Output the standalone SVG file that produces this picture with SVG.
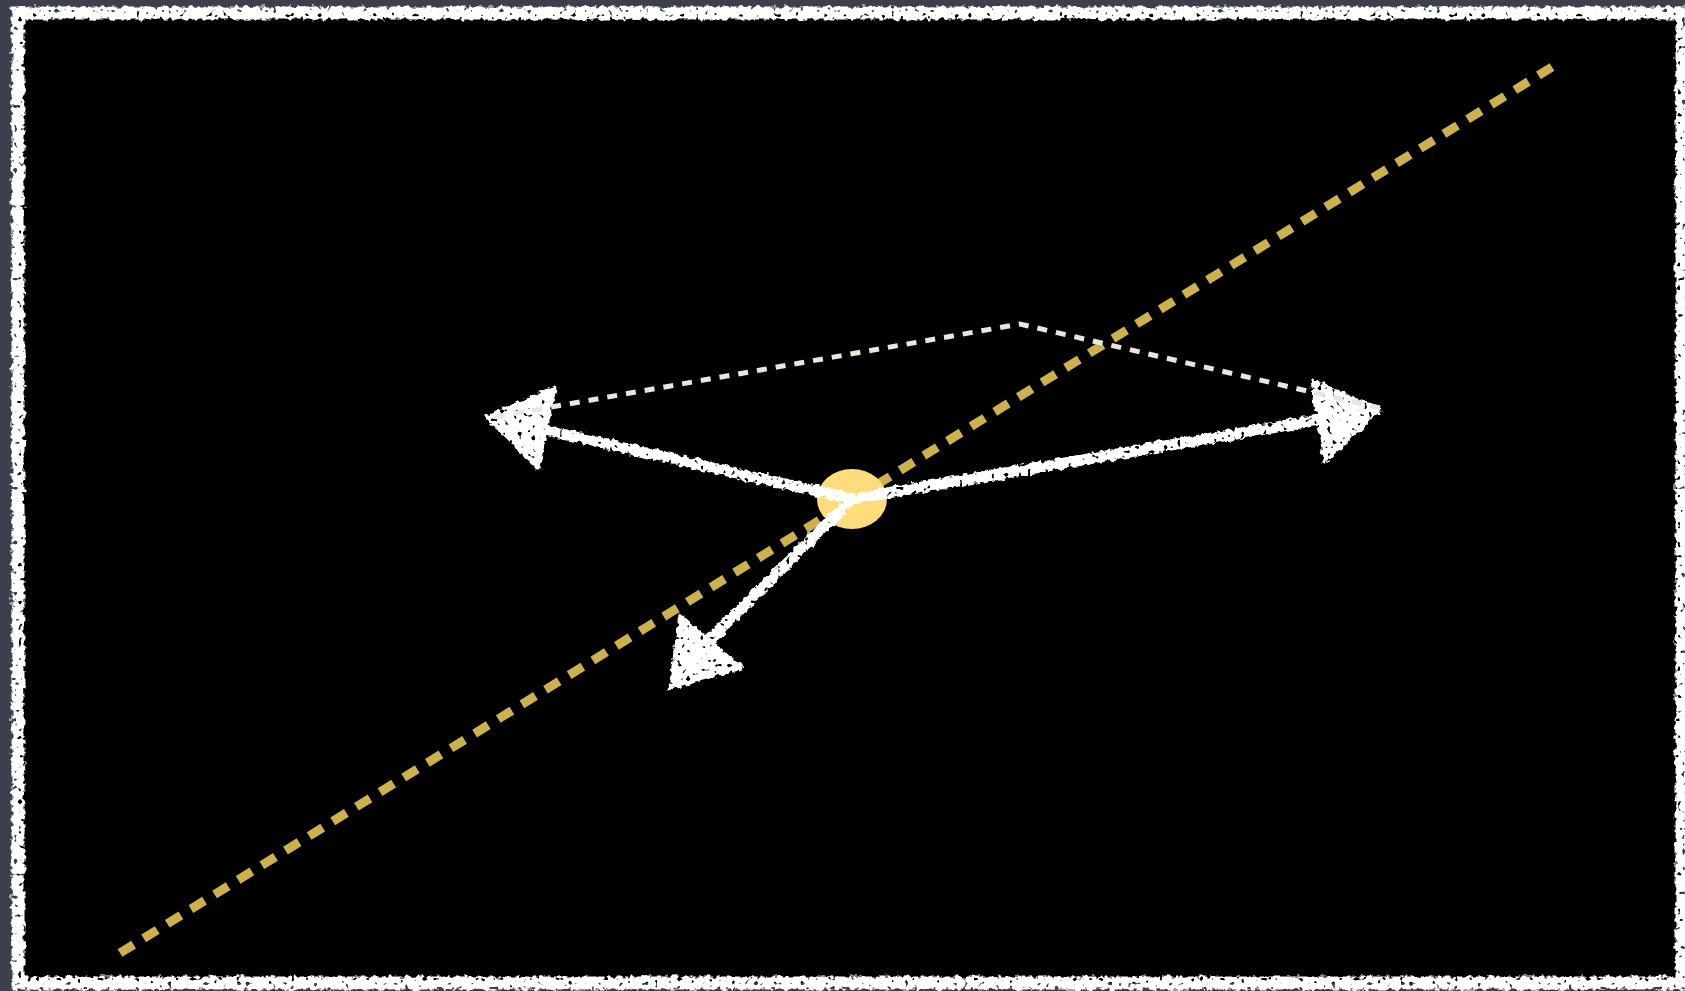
<svg xmlns="http://www.w3.org/2000/svg" width="1685" height="991" viewBox="0 0 1685 991">
<defs>
<filter id="chalk" x="-5%" y="-5%" width="110%" height="110%">
<feTurbulence type="fractalNoise" baseFrequency="0.18" numOctaves="2" seed="2" result="n"/>
<feDisplacementMap in="SourceGraphic" in2="n" scale="7" xChannelSelector="R" yChannelSelector="G" result="d"/>
<feTurbulence type="fractalNoise" baseFrequency="0.22" numOctaves="1" seed="7" result="n2"/>
<feColorMatrix in="n2" type="matrix" values="0 0 0 0 0  0 0 0 0 0  0 0 0 0 0  0 0 0 -14 10" result="holes"/>
<feComposite in="d" in2="holes" operator="in"/>
</filter>
<filter id="chalkA" x="-20%" y="-20%" width="140%" height="140%">
<feTurbulence type="fractalNoise" baseFrequency="0.18" numOctaves="2" seed="4" result="n"/>
<feDisplacementMap in="SourceGraphic" in2="n" scale="7" xChannelSelector="R" yChannelSelector="G" result="d"/>
<feTurbulence type="fractalNoise" baseFrequency="0.22" numOctaves="1" seed="9" result="n2"/>
<feColorMatrix in="n2" type="matrix" values="0 0 0 0 0  0 0 0 0 0  0 0 0 0 0  0 0 0 -14 10" result="holes"/>
<feComposite in="d" in2="holes" operator="in"/>
</filter>
<style>
.shaft{stroke:#ffffff;stroke-width:11;stroke-linecap:round;fill:none}
.head{fill:#ffffff;stroke:#ffffff;stroke-width:3;stroke-linejoin:round}
.guide{stroke:#ebe6dc;stroke-width:5;stroke-dasharray:10 9;fill:none}
.axis{stroke:#cdb14a;stroke-width:9;stroke-dasharray:16 11.8;fill:none}
</style>
</defs>
<rect x="0" y="0" width="1685" height="991" fill="#3c404c"/>
<rect x="18" y="13" width="1664" height="970" fill="#000000"/>
<rect x="18" y="13" width="1664" height="970" fill="none" stroke="#ffffff" stroke-width="13" filter="url(#chalk)"/>
<g id="axis-line">
<line class="axis" x1="120" y1="953" x2="1552" y2="67"/>
</g>
<g id="origin">
<ellipse cx="852" cy="499" rx="35" ry="30" fill="#fddc7c"/>
</g>
<g id="connectors" filter="url(#chalkA)">
<g id="arrow-left">
<line class="shaft" x1="852" y1="499" x2="545" y2="430"/>
<polygon class="head" points="487,417 555,388 538,468"/>
</g>
<g id="arrow-right">
<line class="shaft" x1="852" y1="499" x2="1318" y2="420"/>
<polygon class="head" points="1380,410 1312,380 1325,462"/>
</g>
<g id="arrow-down">
<line class="shaft" x1="852" y1="499" x2="710" y2="640"/>
<polygon class="head" points="670,688 680,615 742,668"/>
</g>
</g>
<g id="guides">
<polyline class="guide" points="495,417 1020,324 1380,408"/>
</g>
</svg>
